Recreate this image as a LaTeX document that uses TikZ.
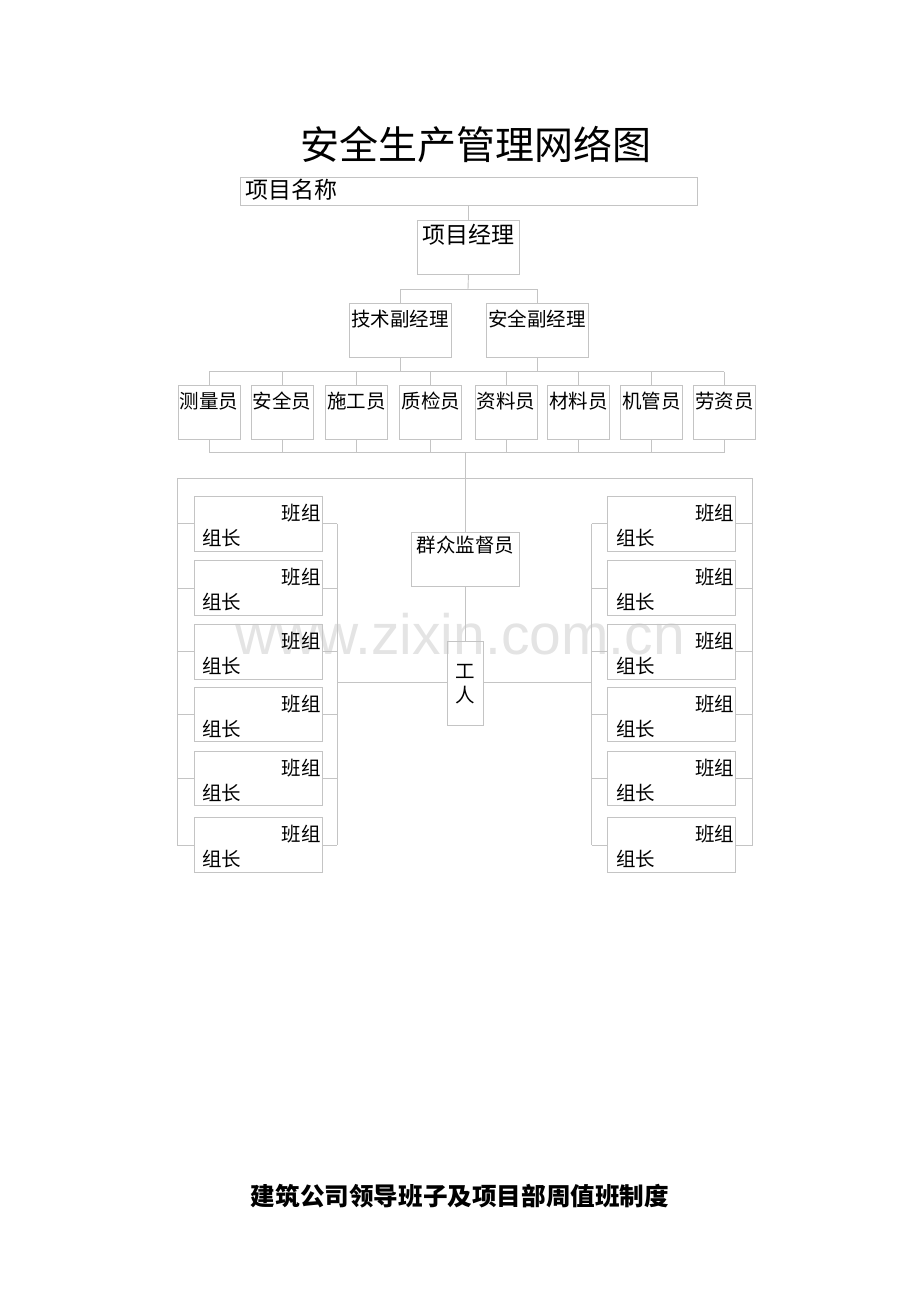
\documentclass[tikz,border=0pt]{standalone}
\usepackage{fontspec}
\setmainfont{Noto Sans CJK SC}
\newfontfamily\wmfont{Liberation Sans}
\usetikzlibrary{calc}
\definecolor{linec}{RGB}{196,196,196}
\definecolor{wmc}{RGB}{228,228,228}
\tikzset{
  x=1pt, y=1pt,
  box/.style={draw=linec, line width=0.9pt, inner sep=0pt, anchor=north west},
  conn/.style={draw=linec, line width=0.9pt},
  t19/.style={inner sep=0pt, font=\fontsize{19.5}{20}\selectfont},
  t23/.style={inner sep=0pt, font=\fontsize{23}{24}\selectfont},
  staffbox/.style={box, minimum width=62pt, minimum height=54pt},
  grpbox/.style={box, minimum width=128pt, minimum height=54.5pt},
}
\begin{document}
\begin{tikzpicture}
\useasboundingbox (0,0) rectangle (920,-1302);
% watermark
\node[inner sep=0pt, text=wmc, font=\wmfont\fontsize{57}{58}\selectfont] (wm) at (460,-634) {www.zixin.com.cn};
% title
\node[inner sep=0pt, font=\fontsize{39}{40}\selectfont] (title) at (476,-145) {安全生产管理网络图};
% project name
\node[box, minimum width=457pt, minimum height=28pt] (pname) at (240,-177) {};
\node[t23, anchor=west] (pnamet) at (245,-190) {项目名称};
% project manager
\node[box, minimum width=102pt, minimum height=54pt] (pm) at (417,-220) {};
\node[t23] (pmt) at (468,-235) {项目经理};
% deputies
\node[box, minimum width=102pt, minimum height=54pt] (tech) at (349,-303) {};
\node[t19] (techt) at (400,-319) {技术副经理};
\node[box, minimum width=102pt, minimum height=54pt] (safe) at (486,-303) {};
\node[t19] (safet) at (537,-319) {安全副经理};
\coordinate (b1) at (468,-289);
\draw[conn] (pname.south -| pm.north) -- (pm.north);
\draw[conn] (pm.south) -- (b1);
\draw[conn] (tech.north |- b1) -- (safe.north |- b1);
\draw[conn] (tech.north |- b1) -- (tech.north);
\draw[conn] (safe.north |- b1) -- (safe.north);
% staff
\foreach \nm/\x/\lab in {s1/177.6/测量员, s2/250.5/安全员, s3/324.9/施工员, s4/399.3/质检员, s5/474.5/资料员, s6/547/材料员, s7/620/机管员, s8/693/劳资员}{
  \node[staffbox] (\nm) at (\x,-385) {};
  \node[t19] (\nm t) at ($(\nm.north)+(0,-16)$) {\lab};
}
\coordinate (topbus) at (0,-371.7);
\coordinate (botbus) at (0,-452.7);
\draw[conn] (s1.north |- topbus) -- (s8.north |- topbus);
\draw[conn] (s1.south |- botbus) -- (s8.south |- botbus);
\foreach \nm in {s1,s2,s3,s4,s5,s6,s7,s8}{
  \draw[conn] (\nm.north |- topbus) -- (\nm.north);
  \draw[conn] (\nm.south) -- (\nm.south |- botbus);
}
\draw[conn] (tech.south) -- (tech.south |- topbus);
\draw[conn] (safe.south) -- (safe.south |- topbus);
% supervisor and workers
\node[box, minimum width=108pt, minimum height=54pt] (sup) at (411.3,-532.3) {};
\node[t19] (supt) at (465.3,-545) {群众监督员};
\node[box, minimum width=36pt, minimum height=84pt] (wk) at (447.3,-641.3) {};
\node[t19, align=center] (wkt) at (465.3,-684) {工\\[4pt]人};
\coordinate (bigbus) at (0,-478.3);
\coordinate (lo) at (177.3,0);
\coordinate (ro) at (752.7,0);
\coordinate (li) at (337.3,0);
\coordinate (ri) at (591.7,0);
\draw[conn] (sup.north |- botbus) -- (sup.north);
\draw[conn] (lo |- bigbus) -- (ro |- bigbus);
\draw[conn] (sup.south) -- (wk.north);
% groups
\foreach \i/\y in {1/496, 2/560.3, 3/624, 4/686.7, 5/750.7, 6/817.3}{
  \node[grpbox] (L\i) at (194,-\y) {};
  \node[t19, anchor=east] (L\i a) at ($(L\i.north east)+(-2,-17)$) {班组};
  \node[t19, anchor=west] (L\i b) at ($(L\i.north west)+(8,-42)$) {组长};
  \node[grpbox] (R\i) at (607.3,-\y) {};
  \node[t19, anchor=east] (R\i a) at ($(R\i.north east)+(-2,-17)$) {班组};
  \node[t19, anchor=west] (R\i b) at ($(R\i.north west)+(8.5,-42)$) {组长};
  \draw[conn] (lo |- L\i.west) -- (L\i.west);
  \draw[conn] (L\i.east) -- (li |- L\i.east);
  \draw[conn] (ri |- R\i.west) -- (R\i.west);
  \draw[conn] (R\i.east) -- (ro |- R\i.east);
}
\draw[conn] (lo |- bigbus) -- (lo |- L6.west);
\draw[conn] (ro |- bigbus) -- (ro |- R6.east);
\draw[conn] (li |- L1.east) -- (li |- L6.east);
\draw[conn] (ri |- R1.west) -- (ri |- R6.west);
\draw[conn] (li |- 0,-682.5) -- (wk.west |- 0,-682.5);
\draw[conn] (wk.east |- 0,-682.5) -- (ri |- 0,-682.5);
% footer
\node[inner sep=0pt, font=\bfseries\fontsize{24.6}{26}\selectfont] (foot) at (460,-1196) {建筑公司领导班子及项目部周值班制度};
\end{tikzpicture}
\end{document}
